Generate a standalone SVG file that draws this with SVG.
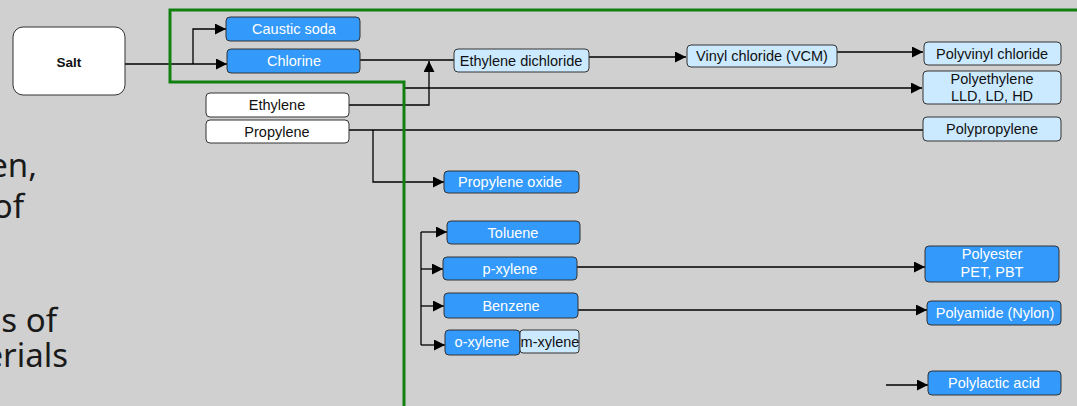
<svg xmlns="http://www.w3.org/2000/svg" width="1077" height="406" viewBox="0 0 1077 406">
<defs>
<marker id="ah" markerUnits="userSpaceOnUse" markerWidth="11" markerHeight="11" refX="11" refY="5.5" orient="auto">
<path d="M0,0 L11,5.5 L0,11 z" fill="#000"/>
</marker>
<style>
.bg{fill:#d0d0d0}
.box{stroke:#333;stroke-width:1}
.blue{fill:#3399fa}
.lb{fill:#cceaff}
.wh{fill:#fff}
.t{font-family:"Liberation Sans",Arial,sans-serif;font-size:14.5px;text-anchor:middle}
.tw{fill:#fff}
.tb{fill:#111}
.big{font-family:"Noto Sans","Open Sans",sans-serif;font-size:33px;fill:#1a1a1a;text-anchor:end}
.c{fill:none;stroke:#000;stroke-width:1.3}
.g{fill:none;stroke:#118011;stroke-width:3}
</style>
</defs>
<rect class="bg" x="0" y="0" width="1077" height="406"/>
<g id="sidetext">
<text class="big" x="37" y="177">en,</text>
<text class="big" x="24" y="218">of</text>
<text class="big" x="57" y="332">s of</text>
<text class="big" x="68" y="367">erials</text>
</g>
<g id="connectors">
<polyline class="c" points="125,64 227,64" marker-end="url(#ah)"/>
<polyline class="c" points="193,64 193,29 226,29" marker-end="url(#ah)"/>
<polyline class="c" points="360,60 454,60"/>
<polyline class="c" points="349,105 429,105 429,61" marker-end="url(#ah)"/>
<polyline class="c" points="589,57 686,57" marker-end="url(#ah)"/>
<polyline class="c" points="837,52 923,52" marker-end="url(#ah)"/>
<polyline class="c" points="404,88 922,88" marker-end="url(#ah)"/>
<polyline class="c" points="349,130 923,130"/>
<polyline class="c" points="373,130 373,182 444,182" marker-end="url(#ah)"/>
<polyline class="c" points="421,232 421,345"/>
<polyline class="c" points="421,232 447,232" marker-end="url(#ah)"/>
<polyline class="c" points="421,269 443,269" marker-end="url(#ah)"/>
<polyline class="c" points="421,306 444,306" marker-end="url(#ah)"/>
<polyline class="c" points="421,345 445,345" marker-end="url(#ah)"/>
<polyline class="c" points="577,267 925,267" marker-end="url(#ah)"/>
<polyline class="c" points="578,310 927,310" marker-end="url(#ah)"/>
<polyline class="c" points="886,385 928,385" marker-end="url(#ah)"/>
</g>
<g id="salt">
<rect class="box wh" x="13" y="27" width="112" height="68" rx="10"/>
<text class="t tb" x="69" y="67" style="font-weight:bold;font-size:13.5px">Salt</text>
</g>
<g id="caustic-soda">
<rect class="box blue" x="226" y="17" width="134" height="24" rx="4"/>
<text class="t tw" x="294" y="34">Caustic soda</text>
</g>
<g id="chlorine">
<rect class="box blue" x="227" y="49" width="133" height="24" rx="4"/>
<text class="t tw" x="294" y="66">Chlorine</text>
</g>
<g id="ethylene">
<rect class="box wh" x="206" y="93" width="143" height="24" rx="4"/>
<text class="t tb" x="277" y="110">Ethylene</text>
</g>
<g id="propylene">
<rect class="box wh" x="206" y="120" width="143" height="23" rx="4"/>
<text class="t tb" x="277" y="136.5">Propylene</text>
</g>
<g id="ethylene-dichloride">
<rect class="box lb" x="454" y="49" width="135" height="23" rx="4"/>
<text class="t tb" x="521" y="66">Ethylene dichloride</text>
</g>
<g id="vinyl-chloride">
<rect class="box lb" x="687" y="45" width="150" height="22" rx="4"/>
<text class="t tb" x="762" y="61">Vinyl chloride (VCM)</text>
</g>
<g id="polyvinyl-chloride">
<rect class="box lb" x="924" y="42" width="137" height="23" rx="4"/>
<text class="t tb" x="992" y="58.5">Polyvinyl chloride</text>
</g>
<g id="polyethylene">
<rect class="box lb" x="923" y="71" width="138" height="33" rx="4"/>
<text class="t tb" x="992" y="84">Polyethylene</text>
<text class="t tb" x="992" y="101">LLD, LD, HD</text>
</g>
<g id="polypropylene">
<rect class="box lb" x="923" y="117" width="138" height="24" rx="4"/>
<text class="t tb" x="992" y="134">Polypropylene</text>
</g>
<g id="propylene-oxide">
<rect class="box blue" x="444" y="171" width="135" height="22" rx="4"/>
<text class="t tw" x="510" y="187">Propylene oxide</text>
</g>
<g id="toluene">
<rect class="box blue" x="447" y="221" width="133" height="23" rx="4"/>
<text class="t tw" x="513" y="237.5">Toluene</text>
</g>
<g id="p-xylene">
<rect class="box blue" x="443" y="257" width="134" height="23" rx="4"/>
<text class="t tw" x="510" y="273.5">p-xylene</text>
</g>
<g id="benzene">
<rect class="box blue" x="444" y="293" width="134" height="25" rx="4"/>
<text class="t tw" x="511" y="310.5">Benzene</text>
</g>
<g id="o-xylene">
<rect class="box blue" x="445" y="330" width="75" height="25" rx="4"/>
<text class="t tw" x="482" y="347">o-xylene</text>
</g>
<g id="m-xylene">
<rect class="box lb" x="520" y="330" width="59" height="23" rx="3"/>
<text class="t tb" x="550" y="346.5">m-xylene</text>
</g>
<g id="polyester">
<rect class="box blue" x="925" y="246" width="134" height="36" rx="4"/>
<text class="t tw" x="992" y="259">Polyester</text>
<text class="t tw" x="992" y="277">PET, PBT</text>
</g>
<g id="polyamide">
<rect class="box blue" x="927" y="301" width="134" height="24" rx="4"/>
<text class="t tw" x="995" y="318">Polyamide (Nylon)</text>
</g>
<g id="polylactic-acid">
<rect class="box blue" x="928" y="371" width="133" height="24" rx="4"/>
<text class="t tw" x="994" y="388">Polylactic acid</text>
</g>
<g id="green-frame">
<polyline class="g" points="1077,10 170,10 170,82 404,82 404,406"/>
</g>
</svg>
